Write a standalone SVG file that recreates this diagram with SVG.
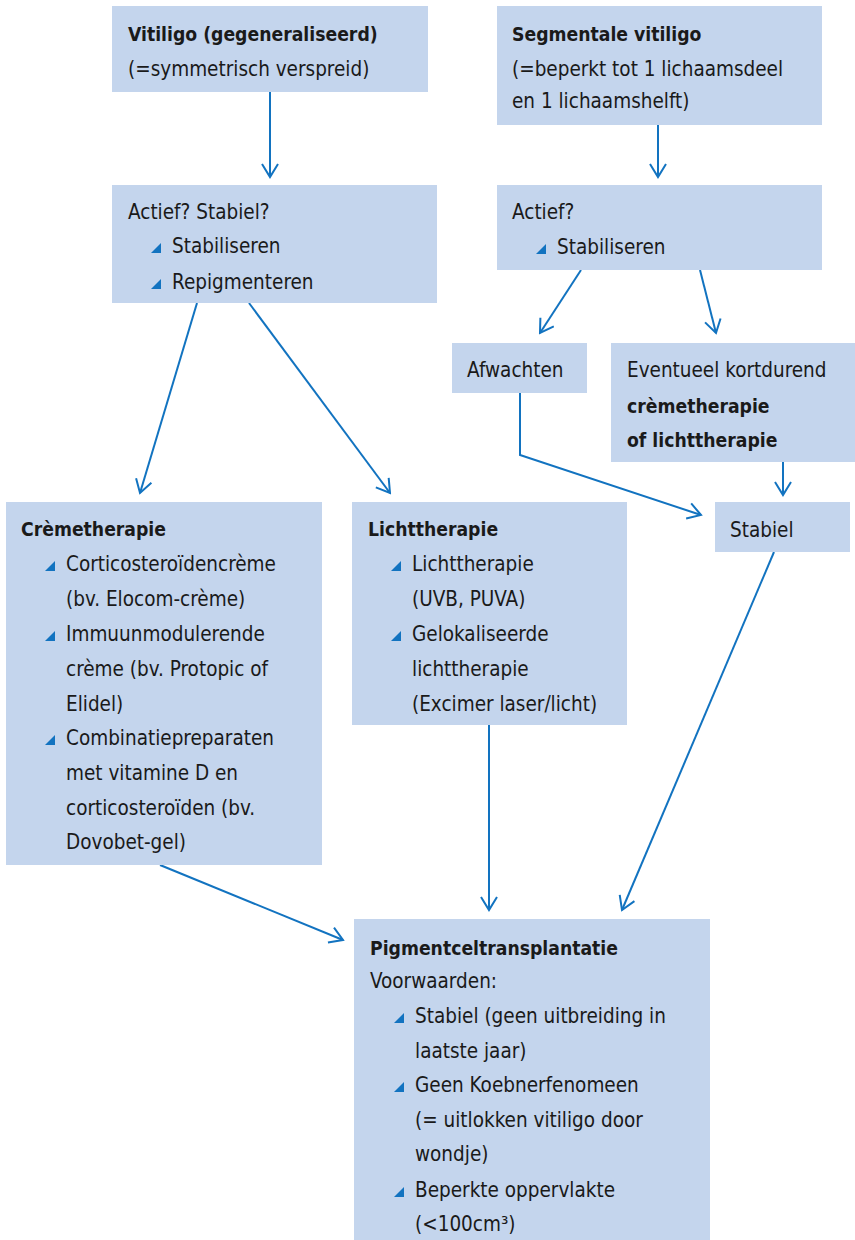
<svg xmlns="http://www.w3.org/2000/svg" width="855" height="1240" viewBox="0 0 855 1240">
<defs>
<style>
.box{fill:#c4d5ed}
text{font-family:"DejaVu Sans Condensed","DejaVu Sans",sans-serif;font-size:20.5px;fill:#1a1a1a}
.b{font-weight:bold;font-size:19.2px}
.bul{fill:#1273c0}
.c{fill:none;stroke:#1273c0;stroke-width:2}
</style>
<marker id="ah" viewBox="-14 -9 16 18" markerWidth="16" markerHeight="18" refX="0" refY="0" orient="auto" markerUnits="userSpaceOnUse">
<path d="M-13,-8 L0,0 L-13,8" fill="none" stroke="#1273c0" stroke-width="2"/>
</marker>
<path id="tri" d="M0,10 L10,10 L10,0 Z"/>
</defs>
<rect width="855" height="1240" fill="#ffffff"/>
<g id="connectors">
<path class="c" d="M270,92 V177" marker-end="url(#ah)"/>
<path class="c" d="M658,125 V177" marker-end="url(#ah)"/>
<path class="c" d="M197,303 L140,493" marker-end="url(#ah)"/>
<path class="c" d="M249,303 L390,493" marker-end="url(#ah)"/>
<path class="c" d="M581,270 L540,333" marker-end="url(#ah)"/>
<path class="c" d="M700,270 L716,333" marker-end="url(#ah)"/>
<path class="c" d="M520,393 V455 L701,515" marker-end="url(#ah)"/>
<path class="c" d="M783,462 V495" marker-end="url(#ah)"/>
<path class="c" d="M774,552 L622,910" marker-end="url(#ah)"/>
<path class="c" d="M489,725 V910" marker-end="url(#ah)"/>
<path class="c" d="M160,865 L343,940" marker-end="url(#ah)"/>
</g>
<g id="n1">
<rect class="box" x="112" y="6" width="316" height="86"/>
<text x="128" y="41" class="b">Vitiligo (gegeneraliseerd)</text>
<text x="128" y="76">(=symmetrisch verspreid)</text>
</g>
<g id="n2">
<rect class="box" x="497" y="6" width="325" height="119"/>
<text x="512" y="41" class="b">Segmentale vitiligo</text>
<text x="512" y="76">(=beperkt tot 1 lichaamsdeel</text>
<text x="512" y="108">en 1 lichaamshelft)</text>
</g>
<g id="n3">
<rect class="box" x="112" y="185" width="325" height="118"/>
<text x="128" y="219">Actief? Stabiel?</text>
<use href="#tri" class="bul" x="151" y="243"/>
<text x="172" y="253">Stabiliseren</text>
<use href="#tri" class="bul" x="151" y="279"/>
<text x="172" y="289">Repigmenteren</text>
</g>
<g id="n4">
<rect class="box" x="497" y="185" width="325" height="85"/>
<text x="512" y="219">Actief?</text>
<use href="#tri" class="bul" x="536" y="244"/>
<text x="557" y="254">Stabiliseren</text>
</g>
<g id="n5">
<rect class="box" x="452" y="343" width="135" height="50"/>
<text x="467" y="377">Afwachten</text>
</g>
<g id="n6">
<rect class="box" x="611" y="343" width="244" height="119"/>
<text x="627" y="377">Eventueel kortdurend</text>
<text x="627" y="413" class="b">crèmetherapie</text>
<text x="627" y="447" class="b">of lichttherapie</text>
</g>
<g id="n7">
<rect class="box" x="715" y="502" width="135" height="50"/>
<text x="730" y="537">Stabiel</text>
</g>
<g id="n8">
<rect class="box" x="6" y="502" width="316" height="363"/>
<text x="21" y="536" class="b">Crèmetherapie</text>
<use href="#tri" class="bul" x="45" y="561"/>
<text x="66" y="571">Corticosteroïdencrème</text>
<text x="66" y="606">(bv. Elocom-crème)</text>
<use href="#tri" class="bul" x="45" y="631"/>
<text x="66" y="641">Immuunmodulerende</text>
<text x="66" y="676">crème (bv. Protopic of</text>
<text x="66" y="711">Elidel)</text>
<use href="#tri" class="bul" x="45" y="735"/>
<text x="66" y="745">Combinatiepreparaten</text>
<text x="66" y="780">met vitamine D en</text>
<text x="66" y="815">corticosteroïden (bv.</text>
<text x="66" y="849">Dovobet-gel)</text>
</g>
<g id="n9">
<rect class="box" x="352" y="502" width="275" height="223"/>
<text x="368" y="536" class="b">Lichttherapie</text>
<use href="#tri" class="bul" x="391" y="561"/>
<text x="412" y="571">Lichttherapie</text>
<text x="412" y="606">(UVB, PUVA)</text>
<use href="#tri" class="bul" x="391" y="631"/>
<text x="412" y="641">Gelokaliseerde</text>
<text x="412" y="676">lichttherapie</text>
<text x="412" y="711">(Excimer laser/licht)</text>
</g>
<g id="n10">
<rect class="box" x="354" y="919" width="356" height="321"/>
<text x="370" y="955" class="b">Pigmentceltransplantatie</text>
<text x="370" y="988">Voorwaarden:</text>
<use href="#tri" class="bul" x="394" y="1013"/>
<text x="415" y="1023">Stabiel (geen uitbreiding in</text>
<text x="415" y="1058">laatste jaar)</text>
<use href="#tri" class="bul" x="394" y="1082"/>
<text x="415" y="1092">Geen Koebnerfenomeen</text>
<text x="415" y="1127">(= uitlokken vitiligo door</text>
<text x="415" y="1161">wondje)</text>
<use href="#tri" class="bul" x="394" y="1187"/>
<text x="415" y="1197">Beperkte oppervlakte</text>
<text x="415" y="1231">(&lt;100cm³)</text>
</g>
</svg>
